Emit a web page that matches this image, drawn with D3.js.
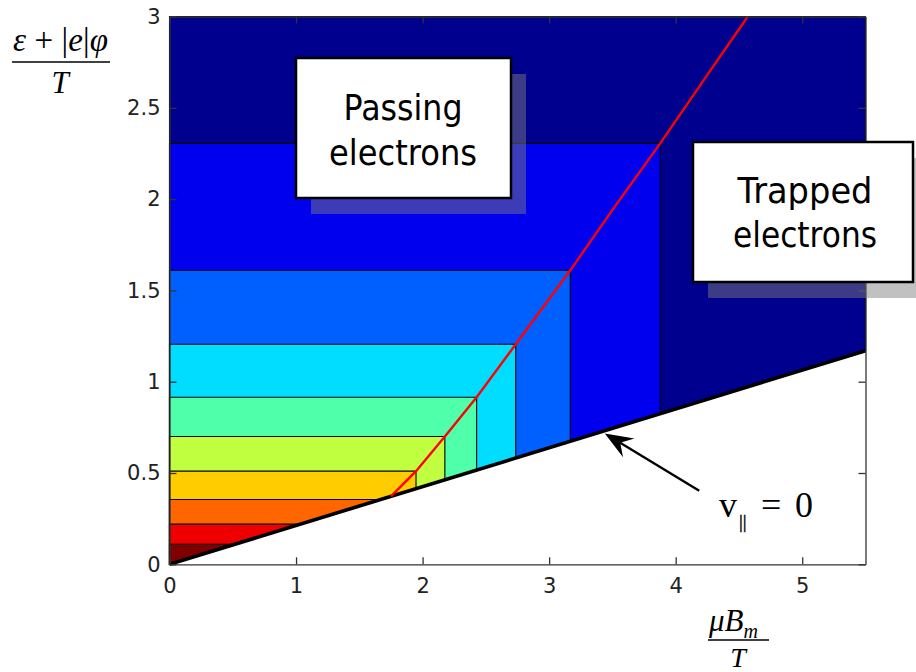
<!DOCTYPE html>
<html>
<head>
<meta charset="utf-8">
<script src="https://cdn.jsdelivr.net/npm/d3@7"></script>
<style>
  html, body { margin: 0; padding: 0; background: #fff; }
  svg { display: block; }
</style>
</head>
<body>
<svg id="chart" width="916" height="672"></svg>
<script>
// Energy contour levels (upper bound of each band) and their colours
const levels = [0.11, 0.22, 0.355, 0.51, 0.70, 0.915, 1.205, 1.61, 2.305, 3.0];
const bandColors = ["#800000", "#EE0000", "#FF6600", "#FFCC00", "#BFFF40",
                    "#50FFAA", "#00DDFF", "#0060FF", "#0000EE", "#00008F"];
// mu*B/T where each band's trapped part ends (null: band closes on the v||=0 line)
const trappedEdges = [null, null, null, 1.948, 2.176, 2.427, 2.736, 3.167, 3.878, 5.5];

// v|| = 0 boundary
const boundaryX = [0, 5.5];
const boundaryY = [0, 1.17];

// Passing / trapped separatrix
const sepX = [1.75, 1.948, 2.176, 2.427, 2.736, 3.167, 3.52, 3.878, 4.22, 4.57];
const sepY = [0.372, 0.51, 0.70, 0.915, 1.205, 1.61, 1.96, 2.305, 2.65, 3.0];

// Axis ticks
const xTicks = [0, 1, 2, 3, 4, 5];
const yTicks = [0, 0.5, 1, 1.5, 2, 2.5, 3];

const svg = d3.select("#chart");
const x = d3.scaleLinear().domain([0, 5.5]).range([169.5, 865.5]);
const y = d3.scaleLinear().domain([0, 3]).range([564.3, 16.5]);
const slope = boundaryY[1] / boundaryX[1];

const plot = svg.append("g");

// Contour bands, painted from the highest level down
for (let i = levels.length - 1; i >= 0; i--) {
  const L = levels[i];
  const X = trappedEdges[i] !== null ? trappedEdges[i] : L / slope;
  const pts = [[0, 0], [0, L], [X, L], [X, slope * X]];
  plot.append("path")
    .attr("d", d3.line().x(d => x(d[0])).y(d => y(d[1]))(pts) + "Z")
    .attr("fill", bandColors[i])
    .attr("stroke", "#000")
    .attr("stroke-width", 1.1);
}

// v|| = 0 line
plot.append("path")
  .attr("d", d3.line().x(d => x(d[0])).y(d => y(d[1]))(d3.zip(boundaryX, boundaryY)))
  .attr("stroke", "#000")
  .attr("stroke-width", 3.6)
  .attr("fill", "none");

// Separatrix
plot.append("path")
  .attr("d", d3.line().x(d => x(d[0])).y(d => y(d[1]))(d3.zip(sepX, sepY)))
  .attr("stroke", "#FF0000")
  .attr("stroke-width", 2.4)
  .attr("fill", "none");

// Axes: ticks pointing inward on all four sides
const tickFont = g => g.selectAll("text")
  .attr("font-family", "DejaVu Sans, sans-serif")
  .attr("font-size", 21)
  .attr("fill", "#222");
const axisStyle = g => {
  g.select(".domain").attr("stroke", "#333").attr("stroke-width", 1.3);
  g.selectAll(".tick line").attr("stroke", "#333").attr("stroke-width", 1.3);
};

svg.append("g").attr("transform", `translate(0,${y(0)})`)
  .call(d3.axisBottom(x).tickValues(xTicks).tickFormat(d3.format("d"))
        .tickSizeInner(-7).tickSizeOuter(0).tickPadding(14))
  .call(axisStyle).call(tickFont);
svg.append("g").attr("transform", `translate(0,${y(3)})`)
  .call(d3.axisTop(x).tickValues(xTicks).tickFormat("")
        .tickSizeInner(-7).tickSizeOuter(0))
  .call(axisStyle);
svg.append("g").attr("transform", `translate(${x(0)},0)`)
  .call(d3.axisLeft(y).tickValues(yTicks).tickFormat(d => String(d))
        .tickSizeInner(-7).tickSizeOuter(0).tickPadding(9))
  .call(axisStyle).call(tickFont);
svg.append("g").attr("transform", `translate(${x(5.5)},0)`)
  .call(d3.axisRight(y).tickValues(yTicks).tickFormat("")
        .tickSizeInner(-7).tickSizeOuter(0))
  .call(axisStyle);
svg.selectAll(".domain").attr("fill", "none");

// Y axis label: (ε + |e|φ) / T
const serif = "Liberation Serif, Times New Roman, serif";
const yl = svg.append("text").attr("x", 13).attr("y", 51)
  .attr("font-family", serif).attr("font-size", 33)
  .attr("textLength", 95).attr("lengthAdjust", "spacing");
yl.append("tspan").attr("font-style", "italic").text("ε");
yl.append("tspan").text(" + |");
yl.append("tspan").attr("font-style", "italic").text("e");
yl.append("tspan").text("|");
yl.append("tspan").attr("font-style", "italic").text("φ");
svg.append("line").attr("x1", 12).attr("x2", 110).attr("y1", 62).attr("y2", 62)
  .attr("stroke", "#000").attr("stroke-width", 1.5);
svg.append("text").attr("x", 60).attr("y", 93).attr("text-anchor", "middle")
  .attr("font-family", serif).attr("font-size", 31).attr("font-style", "italic").text("T");

// X axis label: μB_m / T
const xl = svg.append("text").attr("x", 709).attr("y", 631)
  .attr("font-family", serif).attr("font-size", 31).attr("font-style", "italic");
xl.append("tspan").text("μB");
xl.append("tspan").attr("font-size", 20).attr("dy", 7).text("m");
svg.append("line").attr("x1", 708).attr("x2", 769).attr("y1", 640).attr("y2", 640)
  .attr("stroke", "#000").attr("stroke-width", 1.5);
svg.append("text").attr("x", 738).attr("y", 667).attr("text-anchor", "middle")
  .attr("font-family", serif).attr("font-size", 28).attr("font-style", "italic").text("T");

// Text boxes with translucent drop shadows
const sans = "DejaVu Sans, sans-serif";
function box(bx, by, bw, bh, lines, cx, baselines, widths) {
  svg.append("rect").attr("x", bx + 15).attr("y", by + 16).attr("width", bw).attr("height", bh)
    .attr("fill", "rgba(125,125,125,0.48)");
  svg.append("rect").attr("x", bx).attr("y", by).attr("width", bw).attr("height", bh)
    .attr("fill", "#fff").attr("stroke", "#000").attr("stroke-width", 2.5);
  lines.forEach((t, i) => {
    svg.append("text").attr("x", cx).attr("y", baselines[i]).attr("text-anchor", "middle")
      .attr("font-family", sans).attr("font-size", 36)
      .attr("textLength", widths[i]).attr("lengthAdjust", "spacingAndGlyphs")
      .attr("fill", "#000").text(t);
  });
}
box(296, 58, 215, 140, ["Passing", "electrons"], 403, [120, 165], [119, 148]);
box(693, 142, 220, 140, ["Trapped", "electrons"], 805, [203, 247], [135, 144]);

// Arrow pointing to the v|| = 0 line
const tail = [4.186, 0.403], tip = [3.44, 0.717];
const tx = x(tip[0]), ty = y(tip[1]), sx = x(tail[0]), sy = y(tail[1]);
const len = Math.hypot(sx - tx, sy - ty);
const ux = (sx - tx) / len, uy = (sy - ty) / len;
svg.append("line").attr("x1", sx).attr("y1", sy)
  .attr("x2", tx + ux * 16).attr("y2", ty + uy * 16)
  .attr("stroke", "#000").attr("stroke-width", 2.4);
const head = [
  [tx, ty],
  [tx + ux * 28 + uy * 11, ty + uy * 28 - ux * 11],
  [tx + ux * 18, ty + uy * 18],
  [tx + ux * 28 - uy * 11, ty + uy * 28 + ux * 11]
];
svg.append("path").attr("d", d3.line()(head) + "Z").attr("fill", "#000");

// v|| = 0 label
svg.append("text").attr("x", 719).attr("y", 517).attr("font-family", serif)
  .attr("font-size", 36).attr("fill", "#000").text("v");
svg.append("text").attr("x", 739).attr("y", 528).attr("font-family", serif)
  .attr("font-size", 19).attr("fill", "#000")
  .attr("stroke", "#000").attr("stroke-width", 0.4)
  .style("-webkit-font-smoothing", "antialiased").text("||");
svg.append("text").attr("x", 761).attr("y", 517).attr("font-family", serif)
  .attr("font-size", 36).attr("fill", "#000")
  .attr("textLength", 52).attr("lengthAdjust", "spacing").text("= 0");
</script>
</body>
</html>
